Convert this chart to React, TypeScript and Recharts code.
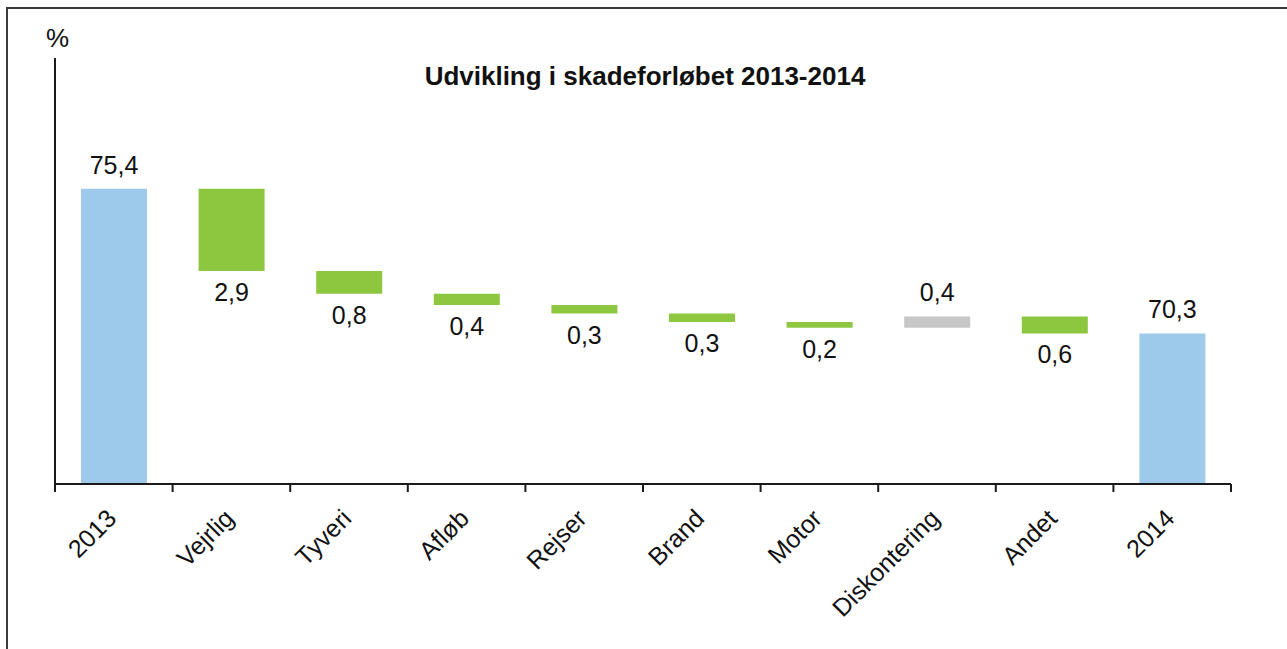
import React from 'react';
import { BarChart, Bar, XAxis, YAxis, Cell, LabelList } from 'recharts';

const categories = ['2013', 'Vejrlig', 'Tyveri', 'Afløb', 'Rejser', 'Brand', 'Motor', 'Diskontering', 'Andet', '2014'];
const changes = [75.4, -2.9, -0.8, -0.4, -0.3, -0.3, -0.2, 0.4, -0.6, 70.3];
const kinds = ['total', 'down', 'down', 'down', 'down', 'down', 'down', 'up', 'down', 'total'];
const yDomain = [65, 80];
const title = 'Udvikling i skadeforløbet 2013-2014';
const unitLabel = '%';

const COLORS: Record<string, string> = { total: '#9dc9eb', down: '#8dc63f', up: '#c7c7c7' };
const FONT = '"Liberation Sans", Arial, sans-serif';
const W = 1287;
const H = 649;
const M_LEFT = 54;
const Y_W = 1;
const M_RIGHT = 56;
const BAND = (W - M_LEFT - Y_W - M_RIGHT) / categories.length;

let running = 0;
const data = categories.map((name, i) => {
  const kind = kinds[i];
  const v = changes[i];
  let range: number | number[];
  if (kind === 'total') {
    running = v;
    range = v;
  } else {
    const start = running;
    running = Math.round((running + v) * 10) / 10;
    range = [Math.min(start, running), Math.max(start, running)];
  }
  return { name, range, kind, label: Math.abs(v).toFixed(1).replace('.', ',') };
});

const ValueLabel = (props: any) => {
  const { x, y, width, height, index } = props;
  const d = data[index];
  if (!d) return null;
  const cx = Number(x) + Number(width) / 2;
  const top = Math.min(Number(y), Number(y) + Number(height));
  const bottom = Math.max(Number(y), Number(y) + Number(height));
  const ty = d.kind === 'down' ? bottom + 30 : top - 15;
  return (
    <text x={cx} y={ty} textAnchor="middle" fontSize={25} fill="#111" fontFamily={FONT}>
      {d.label}
    </text>
  );
};

const CatTick = (props: any) => {
  const { x, y, payload, index } = props;
  const lx = x - BAND / 2;
  const rx = x + BAND / 2;
  return (
    <g>
      <line x1={lx} x2={lx} y1={y} y2={y + 8} stroke="#1a1a1a" strokeWidth={2} />
      {index === categories.length - 1 && (
        <line x1={rx} x2={rx} y1={y} y2={y + 8} stroke="#1a1a1a" strokeWidth={2} />
      )}
      <text
        transform={`translate(${x + 4},${y + 36}) rotate(-45)`}
        textAnchor="end"
        fontSize={25}
        fill="#111"
        fontFamily={FONT}
      >
        {payload.value}
      </text>
    </g>
  );
};

export default function App() {
  return (
    <div style={{ position: 'absolute', left: 0, top: 0, width: W, height: H, background: '#fff', overflow: 'hidden' }}>
      <div
        style={{
          position: 'absolute',
          left: 6,
          top: 7,
          width: W - 6,
          height: H - 7,
          boxSizing: 'border-box',
          borderLeft: '2px solid #3a3a3a',
          borderTop: '2px solid #3a3a3a',
        }}
      />
      <div style={{ position: 'absolute', left: 0, top: 0 }}>
        <BarChart
          width={W}
          height={H}
          data={data}
          margin={{ top: 58, right: M_RIGHT, bottom: 0, left: M_LEFT }}
        >
          <XAxis
            dataKey="name"
            type="category"
            height={165}
            tickLine={false}
            tickSize={0}
            tickMargin={0}
            axisLine={{ stroke: '#1a1a1a', strokeWidth: 2 }}
            tick={<CatTick />}
            interval={0}
          />
          <YAxis
            type="number"
            domain={yDomain}
            width={Y_W}
            tick={false}
            tickLine={false}
            axisLine={{ stroke: '#1a1a1a', strokeWidth: 2 }}
            allowDataOverflow
          />
          <Bar dataKey="range" barSize={66} isAnimationActive={false}>
            {data.map((d, i) => (
              <Cell key={i} fill={COLORS[d.kind]} />
            ))}
            <LabelList dataKey="range" content={<ValueLabel />} />
          </Bar>
        </BarChart>
      </div>
      <svg
        width={W}
        height={H}
        style={{ position: 'absolute', left: 0, top: 0, pointerEvents: 'none' }}
      >
        <text x={645} y={85} textAnchor="middle" fontSize={26} fontWeight="bold" fill="#111" fontFamily={FONT}>
          {title}
        </text>
        <text x={57.5} y={47} textAnchor="middle" fontSize={26} fill="#111" fontFamily={FONT}>
          {unitLabel}
        </text>
      </svg>
    </div>
  );
}
